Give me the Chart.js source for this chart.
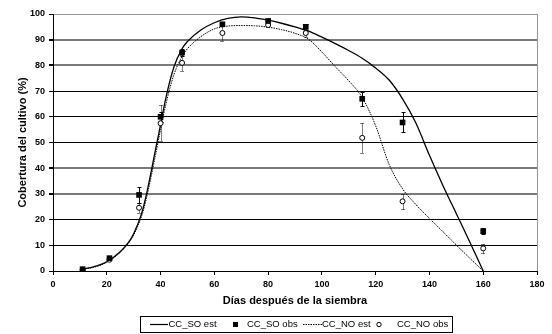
<!DOCTYPE html>
<html>
<head>
<meta charset="utf-8">
<script src="https://cdn.jsdelivr.net/npm/chart.js@4/dist/chart.umd.min.js"></script>
<style>
  html, body { margin: 0; padding: 0; background: #fff; }
  canvas { display: block; }
</style>
</head>
<body>
<canvas id="c" width="552" height="334"></canvas>
<script>
// Simulated canopy cover curves (days after sowing -> %)
const estDays = [11, 15, 20, 25, 28, 30, 33, 35, 38, 40, 42, 45, 48, 50, 55, 60, 65, 70, 75, 80, 85, 90, 95, 100, 105, 110, 115, 120, 125, 130, 135, 140, 145, 150, 155, 160];
const soEst = [0.8, 1.6, 3.6, 7.5, 11, 14.5, 22.5, 31, 46.5, 57, 67.5, 79.5, 86.5, 89.3, 93.8, 96.6, 98.3, 98.9, 98.5, 97.6, 96.4, 95, 93.3, 91, 88.5, 85.8, 82.8, 79, 74.3, 67, 57.5, 45, 33.3, 22.3, 11.3, 0];
const noEst = [0.7, 1.4, 3.4, 7.3, 10.8, 14, 21.5, 29.5, 44.5, 55, 65, 76.5, 83.5, 86.5, 91.2, 94.2, 95.3, 95.5, 95.4, 94.9, 93.9, 92.5, 90.2, 85.2, 79.5, 74, 67.5, 56.5, 41.5, 32, 25.8, 20.5, 15.3, 10.1, 5, 0];

// Field observations with their error half-widths
const obsDays = [11, 21, 32, 40, 48, 63, 80, 94, 115, 130, 160];
const soObs = [0.7, 5.0, 29.6, 60.0, 85.0, 96.0, 97.3, 95.0, 67.0, 57.8, 15.5];
const soErr = [0.3, 0.6, 3.0, 2.0, 1.2, 0.8, 0.6, 1.2, 2.7, 3.9, 1.2];
const noObs = [0.5, 4.4, 24.6, 57.5, 81.0, 92.6, 95.7, 92.6, 51.8, 27.1, 8.8];
const noErr = [0.3, 0.5, 2.0, 7.0, 3.2, 3.0, 0.6, 1.5, 5.7, 3.0, 1.7];

// Axis ticks
const xTicks = [0, 20, 40, 60, 80, 100, 120, 140, 160, 180];
const yTicks = [0, 10, 20, 30, 40, 50, 60, 70, 80, 90, 100];

const seriesLabels = ['CC_SO est', 'CC_SO obs', 'CC_NO est', 'CC_NO obs'];

const toPoints = (xs, ys) => xs.map((v, i) => ({ x: v, y: ys[i] }));

const FONT = '"Liberation Sans", Arial, sans-serif';

// Vertical error bars with small caps
const errorBars = {
  id: 'errorBars',
  beforeDatasetsDraw(chart) {
    const { ctx, scales: { x, y } } = chart;
    chart.data.datasets.forEach((ds, i) => {
      if (!ds.errors) return;
      ctx.save();
      ctx.strokeStyle = '#000';
      ctx.lineWidth = 1;
      ctx.setLineDash(ds.errorDash || []);
      ds.data.forEach((p, j) => {
        const e = ds.errors[j];
        const px = Math.round(x.getPixelForValue(p.x)) + 0.5;
        const top = Math.round(y.getPixelForValue(p.y + e)) + 0.5;
        const bot = Math.round(y.getPixelForValue(p.y - e)) + 0.5;
        ctx.beginPath();
        ctx.moveTo(px, top); ctx.lineTo(px, bot);
        ctx.moveTo(px - 2, top); ctx.lineTo(px + 2, top);
        ctx.moveTo(px - 2, bot); ctx.lineTo(px + 2, bot);
        ctx.stroke();
      });
      ctx.restore();
    });
  }
};

// Boxed legend row under the axis title
const boxedLegend = {
  id: 'boxedLegend',
  afterDraw(chart) {
    const ctx = chart.ctx;
    const ds = chart.data.datasets;
    const cy = 324.5;
    ctx.save();
    ctx.strokeStyle = '#000';
    ctx.lineWidth = 1;
    ctx.strokeRect(140.5, 316.5, 312, 16);
    ctx.font = '9.5px ' + FONT;
    ctx.fillStyle = '#000';
    ctx.textBaseline = 'middle';
    ctx.textAlign = 'left';

    // solid line sample
    ctx.beginPath();
    ctx.moveTo(150, cy); ctx.lineTo(168, cy);
    ctx.lineWidth = 1.2;
    ctx.stroke();
    ctx.fillText(ds[0].label, 168.5, cy);

    // filled square sample
    ctx.fillRect(233, cy - 2.5, 5, 5);
    ctx.fillText(ds[1].label, 247, cy);

    // dotted line sample
    ctx.beginPath();
    ctx.setLineDash([1.5, 1]);
    ctx.lineWidth = 1;
    ctx.moveTo(303, cy); ctx.lineTo(322, cy);
    ctx.stroke();
    ctx.setLineDash([]);
    ctx.fillText(ds[2].label, 322, cy);

    // open circle sample
    ctx.beginPath();
    ctx.arc(379, cy, 2.2, 0, Math.PI * 2);
    ctx.fillStyle = '#fff';
    ctx.fill();
    ctx.stroke();
    ctx.fillStyle = '#000';
    ctx.fillText(ds[3].label, 397, cy);
    ctx.restore();
  }
};

const greyRows = [30, 40, 80, 90];

new Chart(document.getElementById('c'), {
  type: 'scatter',
  data: {
    datasets: [
      {
        label: seriesLabels[0],
        data: toPoints(estDays, soEst),
        showLine: true,
        borderColor: '#000',
        borderWidth: 1.3,
        pointRadius: 0,
        cubicInterpolationMode: 'monotone',
        order: 3
      },
      {
        label: seriesLabels[1],
        data: toPoints(obsDays, soObs),
        errors: soErr,
        pointStyle: 'rect',
        pointRadius: 4,
        backgroundColor: '#000',
        borderColor: '#000',
        borderWidth: 0,
        order: 1
      },
      {
        label: seriesLabels[2],
        data: toPoints(estDays, noEst),
        showLine: true,
        borderColor: '#000',
        borderWidth: 1,
        borderDash: [1.5, 1],
        pointRadius: 0,
        cubicInterpolationMode: 'monotone',
        order: 4
      },
      {
        label: seriesLabels[3],
        data: toPoints(obsDays, noObs),
        errors: noErr,
        errorDash: [1, 1],
        pointStyle: 'circle',
        pointRadius: 2.5,
        backgroundColor: '#fff',
        borderColor: '#000',
        borderWidth: 1,
        order: 2
      }
    ]
  },
  options: {
    responsive: false,
    animation: false,
    devicePixelRatio: 1,
    layout: { padding: { top: 14, right: 15, left: 0, bottom: 0 } },
    plugins: {
      legend: { display: false },
      tooltip: { enabled: false }
    },
    scales: {
      x: {
        type: 'linear',
        min: xTicks[0],
        max: xTicks[xTicks.length - 1],
        afterBuildTicks: s => { s.ticks = xTicks.map(v => ({ value: v })); },
        afterFit: s => { s.height = 63; },
        ticks: {
          color: '#000',
          padding: 4,
          font: { family: FONT, size: 9, weight: 'bold' }
        },
        grid: {
          color: c => (c.tick && c.tick.value === 180 ? '#999' : 'rgba(0,0,0,0)'),
          tickColor: '#000',
          tickLength: 4,
          lineWidth: 1
        },
        border: { color: '#000', width: 1 },
        title: {
          display: true,
          text: 'Días después de la siembra',
          color: '#000',
          font: { family: FONT, size: 11, weight: 'bold' },
          padding: { top: 0, bottom: 26 }
        }
      },
      y: {
        type: 'linear',
        min: yTicks[0],
        max: yTicks[yTicks.length - 1],
        afterBuildTicks: s => { s.ticks = yTicks.map(v => ({ value: v })); },
        afterFit: s => { s.width = 53; },
        ticks: {
          color: '#000',
          padding: 4,
          font: { family: FONT, size: 9, weight: 'bold' }
        },
        grid: {
          color: c => {
            const v = c.tick ? c.tick.value : 0;
            if (v === 100) return '#999';
            return greyRows.includes(v) ? '#7a7a7a' : '#000';
          },
          lineWidth: c => (c.tick && greyRows.includes(c.tick.value) ? 2 : 1),
          tickColor: '#000',
          tickLength: 4
        },
        border: { color: '#000', width: 1 },
        title: {
          display: true,
          text: 'Cobertura del cultivo (%)',
          color: '#000',
          font: { family: FONT, size: 11, weight: 'bold' },
          padding: { top: 16, bottom: 0 }
        }
      }
    }
  },
  plugins: [errorBars, boxedLegend]
});
</script>
</body>
</html>
